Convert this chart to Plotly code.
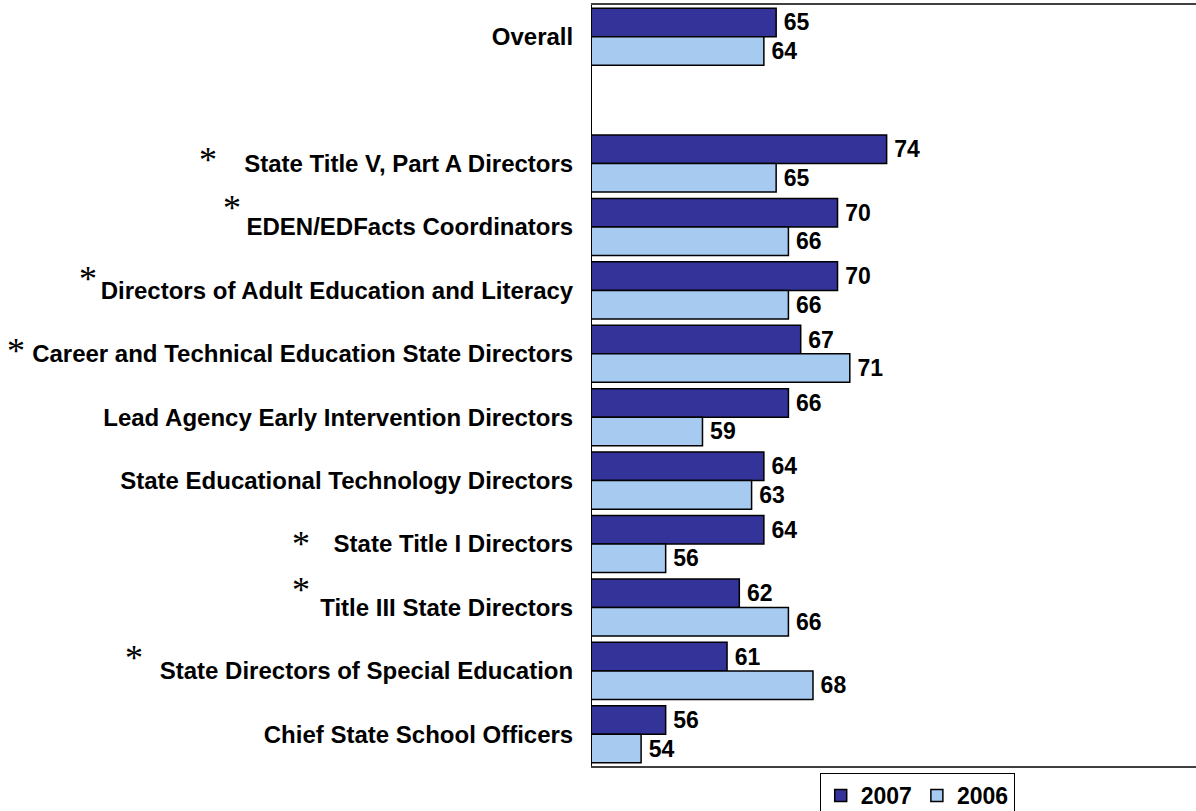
import plotly.graph_objects as go

# Survey groups (top to bottom) and scores for each year
categories = [
    "Overall",
    "State Title V, Part A Directors",
    "EDEN/EDFacts Coordinators",
    "Directors of Adult Education and Literacy",
    "Career and Technical Education State Directors",
    "Lead Agency Early Intervention Directors",
    "State Educational Technology Directors",
    "State Title I Directors",
    "Title III State Directors",
    "State Directors of Special Education",
    "Chief State School Officers",
]
scores_2007 = [65, 74, 70, 70, 67, 66, 64, 64, 62, 61, 56]
scores_2006 = [64, 65, 66, 66, 71, 59, 63, 56, 66, 68, 54]

# Groups flagged with an asterisk
flagged = [
    "State Title V, Part A Directors",
    "EDEN/EDFacts Coordinators",
    "Directors of Adult Education and Literacy",
    "Career and Technical Education State Directors",
    "State Title I Directors",
    "Title III State Directors",
    "State Directors of Special Education",
]

# Empty row separating the overall score from the groups
SPACER = " "
row_order = [categories[0], SPACER] + categories[1:]

# Asterisk placement: (pixel offset from plot's left edge, lift above row centre)
asterisk_place = {
    "State Title V, Part A Directors": (-384, 11),
    "EDEN/EDFacts Coordinators": (-360, 27),
    "Directors of Adult Education and Literacy": (-504, 19),
    "Career and Technical Education State Directors": (-576, 10),
    "State Title I Directors": (-291, 8),
    "Title III State Directors": (-291, 25),
    "State Directors of Special Education": (-458, 20),
}
ASTERISK_SIZE = 36

FONT = "Liberation Sans, Arial, Helvetica, sans-serif"
DARK = "#333399"
LIGHT = "#A6CAF0"

fig = go.Figure()
for name, vals, color in [("2007", scores_2007, DARK), ("2006", scores_2006, LIGHT)]:
    fig.add_trace(go.Bar(
        name=name,
        y=categories,
        x=vals,
        orientation="h",
        marker=dict(color=color, line=dict(color="#000000", width=1.5)),
        texttemplate="\u2009%{x}",
        textposition="outside",
        constraintext="none",
        cliponaxis=False,
        textfont=dict(family=FONT, size=23, color="#000000", weight="bold"),
    ))

annotations = []
for cat in flagged:
    dx, lift = asterisk_place[cat]
    annotations.append(dict(
        text="*", xref="paper", x=0, xanchor="center", xshift=dx,
        yref="y", y=cat, yanchor="middle", yshift=lift - 0.21 * ASTERISK_SIZE,
        showarrow=False,
        font=dict(family="Liberation Serif, Times New Roman, serif",
                  size=ASTERISK_SIZE, color="#000000"),
    ))

fig.update_layout(
    width=1196, height=811,
    margin=dict(l=592, r=0, t=5, b=45, autoexpand=False),
    paper_bgcolor="white", plot_bgcolor="white",
    barmode="group", bargap=0.1, bargroupgap=0,
    showlegend=True,
    legend=dict(
        orientation="h", x=0.377, xanchor="left", y=-0.0092, yanchor="top",
        bordercolor="#000000", borderwidth=1, bgcolor="white",
        font=dict(family=FONT, size=23, color="#000000", weight="bold"),
        traceorder="normal", itemwidth=30,
    ),
    annotations=annotations,
    xaxis=dict(
        range=[50, 99.2],
        showgrid=False, zeroline=False, showticklabels=False, ticks="",
        showline=True, mirror=True, linecolor="#404040", linewidth=2,
    ),
    yaxis=dict(
        type="category", categoryorder="array", categoryarray=row_order,
        autorange="reversed",
        showgrid=False, zeroline=False, ticks="",
        showline=True, linecolor="#000000", linewidth=1,
        ticklabelstandoff=13,
        tickfont=dict(family=FONT, size=24, color="#000000", weight="bold"),
    ),
)

fig.write_html("out.html")
